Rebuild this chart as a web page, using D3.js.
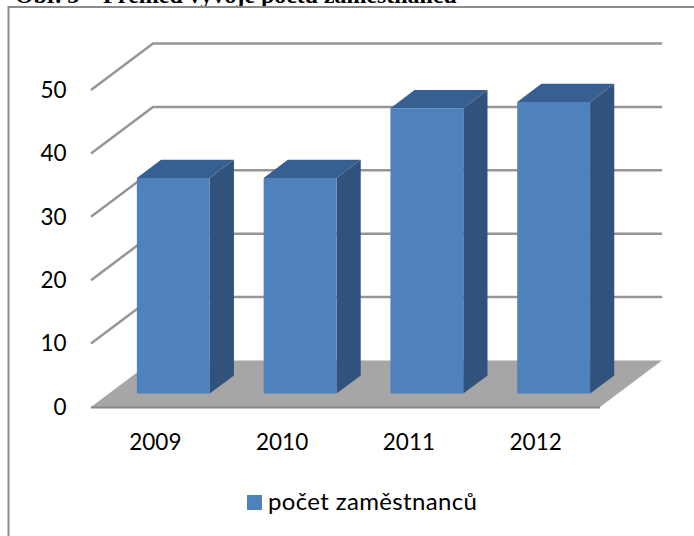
<!DOCTYPE html>
<html>
<head>
<meta charset="utf-8">
<script src="https://cdn.jsdelivr.net/npm/d3@7"></script>
<style>
html, body { margin: 0; padding: 0; background: #fff; overflow: hidden; }
svg { display: block; }
text { font-family: Lato, "Open Sans", sans-serif; fill: #000; }
</style>
</head>
<body>
<div id="chart"></div>
<script>
var years = ["2009", "2010", "2011", "2012"];
var employees = [34, 34, 45, 46];
var yTicks = [0, 10, 20, 30, 40, 50];
var seriesName = "počet zaměstnanců";
var titleText = "Obr. 3 – Přehled vývoje počtu zaměstnanců";

var svg = d3.select("#chart").append("svg").attr("width", 694).attr("height", 536);

// title is cut off by the top of the picture, same as the scan
svg.append("text").attr("x", 15).attr("y", 3)
    .style("font-family", "'Liberation Serif', serif")
    .style("font-weight", "bold").style("font-size", "23.9px")
    .text(titleText);

// frame runs off the right and bottom of the picture
svg.append("rect").attr("x", 8.5).attr("y", 7).attr("width", 700).attr("height", 550)
    .attr("fill", "none").attr("stroke", "#8c8c8c").attr("stroke-width", 2);

// front edge of the floor, the back wall sits dx,dy away
var y = d3.scaleLinear().domain([0, 50]).range([407, 90]);
var x = d3.scaleBand().domain(years).range([91, 600]).paddingInner(0.425).paddingOuter(0.22);
var dx = 62, dy = -46.5;
var barDepth = 0.39, barStart = 0.29;

var floorY = y(0);
svg.append("path")
    .attr("d", d3.line()([[x.range()[0], floorY], [x.range()[1], floorY],
        [x.range()[1] + dx, floorY + dy], [x.range()[0] + dx, floorY + dy]]) + "Z")
    .attr("fill", "#a6a6a6");
svg.append("line")
    .attr("x1", x.range()[0]).attr("x2", x.range()[1])
    .attr("y1", floorY + 0.5).attr("y2", floorY + 0.5)
    .attr("stroke", "#868686").attr("stroke-width", 2);

var grid = svg.append("g").attr("fill", "none").attr("stroke", "#969696").attr("stroke-width", 2.5);
yTicks.filter(function(d) { return d > 0; }).forEach(function(d) {
    grid.append("path").attr("d", d3.line()([
        [x.range()[0], y(d)],
        [x.range()[0] + dx, y(d) + dy],
        [x.range()[1] + dx, y(d) + dy]
    ]));
});

var bars = svg.append("g").selectAll("g").data(employees).enter().append("g");
function corner(i, v, depth, right) {
    var bx = x(years[i]) + (right ? x.bandwidth() : 0) + dx * (barStart + depth);
    return [bx, y(v) + dy * (barStart + depth)];
}
bars.append("path").attr("fill", "#30527d").attr("d", function(d, i) {
    return d3.line()([corner(i, 0, 0, true), corner(i, d, 0, true),
        corner(i, d, barDepth, true), corner(i, 0, barDepth, true)]) + "Z";
});
bars.append("path").attr("fill", "#375f92").attr("d", function(d, i) {
    return d3.line()([corner(i, d, 0, false), corner(i, d, 0, true),
        corner(i, d, barDepth, true), corner(i, d, barDepth, false)]) + "Z";
});
bars.append("path").attr("fill", "#4f81bd").attr("d", function(d, i) {
    return d3.line()([corner(i, 0, 0, false), corner(i, 0, 0, true),
        corner(i, d, 0, true), corner(i, d, 0, false)]) + "Z";
});

svg.append("g").selectAll("text").data(yTicks).enter().append("text")
    .attr("x", 66.5).attr("y", function(d) { return y(d); })
    .attr("dy", "0.35em").attr("text-anchor", "end")
    .style("font-size", "22.5px")
    .text(function(d) { return d; });

svg.append("g").selectAll("text").data(years).enter().append("text")
    .attr("x", function(d) { return x(d) + x.bandwidth() / 2; })
    .attr("y", 450).attr("text-anchor", "middle")
    .style("font-size", "22.5px")
    .text(function(d) { return d; });

svg.append("rect").attr("x", 247).attr("y", 495).attr("width", 15).attr("height", 15).attr("fill", "#4f81bd");
svg.append("text").attr("x", 268).attr("y", 510)
    .style("font-size", "24px").style("letter-spacing", "0.35px")
    .text(seriesName);
</script>
</body>
</html>
